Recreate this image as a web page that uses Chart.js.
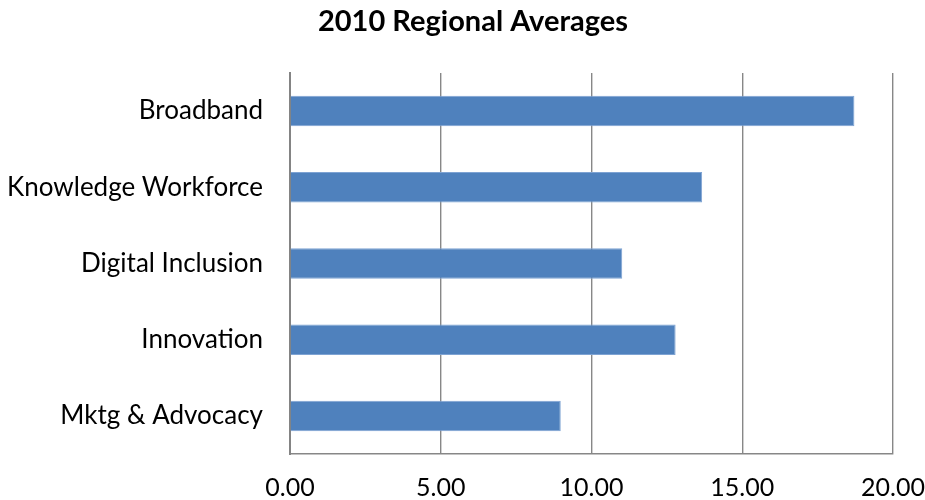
<!DOCTYPE html>
<html>
<head>
<meta charset="utf-8">
<script src="https://cdn.jsdelivr.net/npm/chart.js@4/dist/chart.umd.min.js"></script>
<style>
  html, body { margin: 0; padding: 0; background: #ffffff; }
  #wrap { width: 925px; height: 500px; position: relative; }
</style>
</head>
<body>
<div id="wrap"><canvas id="chart"></canvas></div>
<script>
// Regional averages by focus area, 2010
const chartTitle = '2010 Regional Averages';
const categories = ['Broadband', 'Knowledge Workforce', 'Digital Inclusion', 'Innovation', 'Mktg & Advocacy'];
const averages = [18.72, 13.67, 11.02, 12.79, 8.98];
const xTicks = [0, 5, 10, 15, 20];

const FONT = 'Lato, "Open Sans", sans-serif';

// Draws the heading above the plot
const titlePlugin = {
  id: 'heading',
  afterDraw(chart) {
    const ctx = chart.ctx;
    ctx.save();
    ctx.font = 'bold 29px ' + FONT;
    ctx.fillStyle = '#000000';
    ctx.textAlign = 'center';
    ctx.textBaseline = 'middle';
    ctx.fillText(chartTitle, 473, 22);
    ctx.restore();
  }
};

new Chart(document.getElementById('chart'), {
  type: 'bar',
  data: {
    labels: categories,
    datasets: [{
      data: averages,
      backgroundColor: '#4F81BD',
      borderColor: '#7EA3D3',
      borderWidth: 1,
      barPercentage: 0.4,
      categoryPercentage: 1.0
    }]
  },
  options: {
    indexAxis: 'y',
    responsive: true,
    maintainAspectRatio: false,
    animation: false,
    layout: { padding: { top: 73, right: 32, left: 0, bottom: 0 } },
    plugins: {
      legend: { display: false },
      title: { display: false },
      tooltip: { enabled: false }
    },
    scales: {
      x: {
        min: 0,
        max: 20,
        afterFit(scale) {
          scale.height = 46;
          scale.paddingLeft = 0;
          scale.paddingRight = 0;
        },
        afterBuildTicks(scale) { scale.ticks = xTicks.map(v => ({ value: v })); },
        ticks: {
          callback: v => Number(v).toFixed(2),
          color: '#000000',
          font: { family: FONT, size: 25 },
          padding: 19,
          maxRotation: 0
        },
        grid: { color: '#878787', lineWidth: 1.4, drawTicks: false },
        border: { display: true, color: '#878787', width: 1.4 }
      },
      y: {
        afterFit(scale) { scale.width = 290; },
        ticks: {
          color: '#000000',
          font: { family: FONT, size: 26 },
          padding: 27
        },
        grid: { display: false, drawTicks: false },
        border: { display: true, color: '#848484', width: 2 }
      }
    }
  },
  plugins: [titlePlugin]
});
</script>
</body>
</html>
